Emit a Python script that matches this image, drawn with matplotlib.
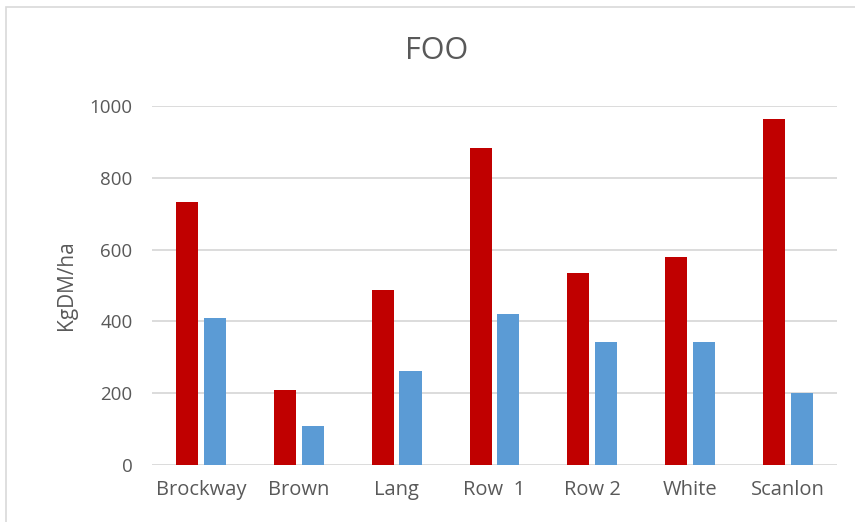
import matplotlib
matplotlib.use("Agg")
import numpy as np
import matplotlib.pyplot as plt
from matplotlib.patches import Rectangle

sites = ["Brockway", "Brown", "Lang", "Row  1", "Row 2", "White", "Scanlon"]
foo_red = [733, 210, 488, 883, 536, 580, 964]
foo_blue = [410, 109, 262, 420, 342, 342, 201]

plt.rcParams['font.family'] = ['Open Sans', 'DejaVu Sans']
txt = '#595959'

fig = plt.figure(figsize=(8.55, 5.22), dpi=100)
ax = fig.add_axes([0.1778, 0.1092, 0.801, 0.688])

x = np.arange(len(sites))
w = 0.225
ax.bar(x - 0.142, foo_red, width=w, color='#C00000', zorder=3)
ax.bar(x + 0.142, foo_blue, width=w, color='#5B9BD5', zorder=3)

ax.set_xlim(-0.5, len(sites) - 0.5)
ax.set_ylim(0, 1000)
ax.set_yticks(range(0, 1001, 200))
ax.set_xticks(x)
ax.set_xticklabels(sites, fontsize=14.5)
ax.grid(axis='y', color='#D9D9D9', linewidth=1.3, zorder=0)
for s in ax.spines.values():
    s.set_visible(False)
ax.tick_params(length=0, labelcolor=txt)
ax.tick_params(axis='y', pad=14, labelsize=13.5)
ax.tick_params(axis='x', pad=11)
ax.set_ylabel("KgDM/ha", fontsize=15, color=txt, labelpad=9)
fig.text(0.511, 0.903, "FOO", ha='center', va='center', fontsize=22, color=txt)

# chart frame
fig.patches.append(Rectangle((6 / 855, -0.1), 1.2, 1 - 7 / 522 + 0.1,
                             transform=fig.transFigure, fill=False,
                             edgecolor='#D9D9D9', linewidth=1.2))

fig.savefig("out.png", dpi=100)
